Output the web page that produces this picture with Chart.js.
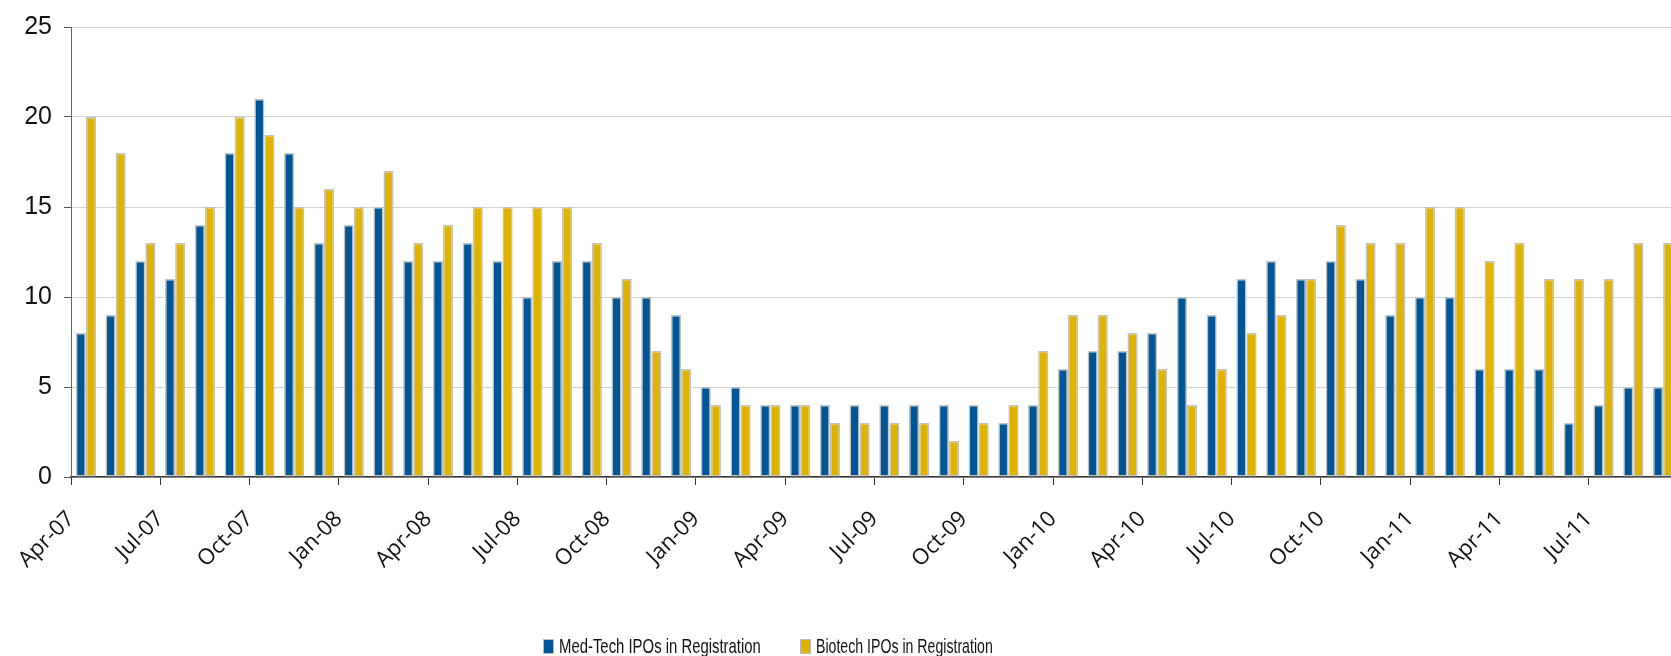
<!DOCTYPE html>
<html>
<head>
<meta charset="utf-8">
<script src="https://cdn.jsdelivr.net/npm/chart.js@4.4.1/dist/chart.umd.min.js"></script>
<style>
  html, body { margin: 0; padding: 0; background: #fff; overflow: hidden; }
  #wrap { position: relative; width: 1678px; height: 656px; }
  #legend {
    position: absolute; left: 543px; top: 634px;
    font-family: "Liberation Sans", sans-serif; font-size: 21px; color: #111;
    white-space: nowrap;
  }
  #legend .item { position: absolute; top: 0; display: flex; align-items: center; }
  #legend .box { width: 9px; height: 13px; border: 1px solid #bbb; margin-right: 5px; flex: none; }
  #legend .txt { display: inline-block; transform-origin: 0 50%; }
</style>
</head>
<body>
<div id="wrap">
  <canvas id="iposChart" width="1678" height="656"></canvas>
  <div id="legend"></div>
</div>
<script>
document.addEventListener('DOMContentLoaded', function() {
    // monthly categories, Apr-07 .. Sep-11
    var months = [
        'Apr-07','May-07','Jun-07','Jul-07','Aug-07','Sep-07','Oct-07','Nov-07','Dec-07','Jan-08','Feb-08','Mar-08',
        'Apr-08','May-08','Jun-08','Jul-08','Aug-08','Sep-08','Oct-08','Nov-08','Dec-08','Jan-09','Feb-09','Mar-09',
        'Apr-09','May-09','Jun-09','Jul-09','Aug-09','Sep-09','Oct-09','Nov-09','Dec-09','Jan-10','Feb-10','Mar-10',
        'Apr-10','May-10','Jun-10','Jul-10','Aug-10','Sep-10','Oct-10','Nov-10','Dec-10','Jan-11','Feb-11','Mar-11',
        'Apr-11','May-11','Jun-11','Jul-11','Aug-11','Sep-11'
    ];

    var medTech = [
        8, 9, 12, 11, 14, 18, 21, 18, 13, 14, 15, 12,
        12, 13, 12, 10, 12, 12, 10, 10, 9, 5, 5, 4,
        4, 4, 4, 4, 4, 4, 4, 3, 4, 6, 7, 7,
        8, 10, 9, 11, 12, 11, 12, 11, 9, 10, 10, 6,
        6, 6, 3, 4, 5, 5
    ];

    var biotech = [
        20, 18, 13, 13, 15, 20, 19, 15, 16, 15, 17, 13,
        14, 15, 15, 15, 15, 13, 11, 7, 6, 4, 4, 4,
        4, 3, 3, 3, 3, 2, 3, 4, 7, 9, 9, 8,
        6, 4, 6, 8, 9, 11, 14, 13, 13, 15, 15, 12,
        13, 11, 11, 11, 13, 13
    ];

    // axis labels sit on the quarter boundaries
    var quarterLabels = [
        'Apr-07','Jul-07','Oct-07','Jan-08','Apr-08','Jul-08','Oct-08','Jan-09','Apr-09',
        'Jul-09','Oct-09','Jan-10','Apr-10','Jul-10','Oct-10','Jan-11','Apr-11','Jul-11'
    ];
    var yTicks = [0, 5, 10, 15, 20, 25];

    var ctx = document.getElementById('iposChart').getContext('2d');
    var chart = new Chart(ctx, {
        type: 'bar',
        data: {
            labels: months,
            datasets: [{
                label: 'Med-Tech IPOs in Registration',
                data: medTech,
                backgroundColor: '#005594',
                borderColor: '#c2c2c2',
                borderWidth: 1.5,
                borderSkipped: false
            }, {
                label: 'Biotech IPOs in Registration',
                data: biotech,
                backgroundColor: '#dfb400',
                borderColor: '#c2c2c2',
                borderWidth: 1.5,
                borderSkipped: false
            }]
        },
        options: {
            responsive: false,
            animation: false,
            devicePixelRatio: 1,
            categoryPercentage: 0.68,
            barPercentage: 1.0,
            layout: { padding: { top: 22, left: 0, right: 0, bottom: 0 } },
            plugins: {
                legend: { display: false },
                tooltip: { enabled: false }
            },
            scales: {
                x: {
                    display: false,
                    offset: true
                },
                // month axis used only for the quarter ticks and labels
                xt: {
                    type: 'linear',
                    position: 'bottom',
                    offset: false,
                    min: 0,
                    max: months.length,
                    afterBuildTicks: function(scale) {
                        scale.ticks = quarterLabels.map(function(l, i) { return { value: i * 3 }; });
                    },
                    afterFit: function(scale) { scale.height = 179; },
                    grid: {
                        offset: false,
                        drawOnChartArea: false,
                        drawTicks: true,
                        tickLength: 8,
                        tickColor: '#333',
                        color: '#333'
                    },
                    border: { display: true, color: '#333', width: 1.5 },
                    ticks: {
                        autoSkip: false,
                        maxRotation: 45,
                        minRotation: 45,
                        padding: 21,
                        color: '#111',
                        font: { family: 'Open Sans', size: 22 },
                        callback: function(v) { return quarterLabels[v / 3]; }
                    }
                },
                y: {
                    min: 0,
                    max: 25,
                    afterBuildTicks: function(scale) {
                        scale.ticks = yTicks.map(function(v) { return { value: v }; });
                    },
                    afterFit: function(scale) { scale.width = 71; },
                    grid: {
                        color: '#d2d2d2',
                        lineWidth: 1,
                        tickLength: 7,
                        tickColor: '#555'
                    },
                    border: { display: true, color: '#666', width: 1 },
                    ticks: {
                        padding: 12,
                        color: '#111',
                        font: { family: 'Liberation Sans', size: 25 }
                    }
                }
            }
        }
    });

    // legend built from the chart's datasets
    var legend = document.getElementById('legend');
    var itemX = [0, 257];
    var textW = [202, 177];
    chart.data.datasets.forEach(function(ds, i) {
        var item = document.createElement('div');
        item.className = 'item';
        item.style.left = itemX[i] + 'px';
        var box = document.createElement('span');
        box.className = 'box';
        box.style.background = ds.backgroundColor;
        var txt = document.createElement('span');
        txt.className = 'txt';
        txt.textContent = ds.label;
        item.appendChild(box);
        item.appendChild(txt);
        legend.appendChild(item);
        txt.style.transform = 'scaleX(' + (textW[i] / txt.offsetWidth) + ')';
    });
});
</script>
</body>
</html>
